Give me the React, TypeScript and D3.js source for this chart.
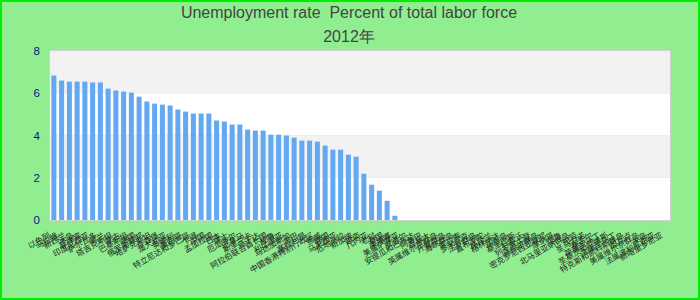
import React from "react";
import * as d3 from "d3";

const titleLine1 = "Unemployment rate  Percent of total labor force";
const titleLine2 = "2012年";

const countries = [
  "以色列", "马拉维", "新西兰", "冰岛", "菲律宾", "印度尼西亚", "萨尔瓦多", "荷兰", "塔吉克斯坦", "蒙古",
  "巴基斯坦", "德国", "俄罗斯联邦", "哈萨克斯坦", "卢森堡", "澳大利亚", "奥地利", "墨西哥", "特立尼达和多巴哥", "乍得",
  "中国", "孟加拉国", "日本", "瑞士", "厄瓜多尔", "巴拿马", "斯里兰卡", "乌干达", "阿拉伯联合酋长国", "秘鲁",
  "利比里亚", "马达加斯加", "古巴", "塞拉利昂", "中国香港特别行政区", "挪威", "韩国", "马来西亚", "危地马拉", "新加坡",
  "越南", "几内亚", "老挝", "泰国", "柬埔寨",
  "美属萨摩亚", "安道尔", "安提瓜和巴布达", "阿鲁巴", "百慕大", "英属维尔京群岛", "开曼群岛", "海峡群岛", "库拉索", "多米尼克",
  "法罗群岛", "直布罗陀", "格陵兰", "格林纳达", "马恩岛", "基里巴斯", "科索沃", "列支敦士登", "马绍尔群岛", "密克罗尼西亚联邦",
  "摩纳哥", "瑙鲁", "北马里亚纳群岛", "帕劳", "圣马力诺", "塞舌尔", "荷属圣马丁", "圣基茨和尼维斯", "法属圣马丁", "特克斯和凯科斯群岛",
  "图瓦卢", "美属维尔京群岛", "关岛", "法属波利尼西亚", "新喀里多尼亚",
];

const rates: (number | null)[] = [
  6.84, 6.6, 6.55, 6.55, 6.55, 6.51, 6.51, 6.22, 6.13, 6.08,
  6.03, 5.84, 5.61, 5.51, 5.46, 5.42, 5.23, 5.13, 5.04, 5.04,
  5.04, 4.71, 4.66, 4.52, 4.52, 4.28, 4.23, 4.23, 4.04, 4.04,
  4.0, 3.9, 3.76, 3.76, 3.71, 3.52, 3.33, 3.33, 3.09, 3.0,
  2.19, 1.67, 1.39, 0.91, 0.2,
  null, null, null, null, null, null, null, null, null, null,
  null, null, null, null, null, null, null, null, null, null,
  null, null, null, null, null, null, null, null, null, null,
  null, null, null, null, null,
];

const yTicks = [0, 2, 4, 6, 8];

const W = 700;
const H = 300;
const plot = { left: 50, right: 670, top: 51, bottom: 220 };

export default function App() {
  const x = d3
    .scaleBand<string>()
    .domain(countries)
    .range([plot.left, plot.right])
    .paddingInner(0.35)
    .paddingOuter(0.175);
  const y = d3.scaleLinear().domain([0, 8]).range([plot.bottom, plot.top]);

  const bands = d3.pairs(yTicks);

  return (
    <svg
      width={W}
      height={H}
      style={{ position: "absolute", left: 0, top: 0, fontFamily: "'Liberation Sans', Arial, sans-serif" }}
    >
      <rect x={1} y={1} width={W - 2} height={H - 2} fill="#90ee90" stroke="#00ee00" strokeWidth={2} />
      <text x={349} y={18} textAnchor="middle" fontSize={16} fill="#444" style={{ whiteSpace: "pre" }}>
        {titleLine1}
      </text>
      <text x={349} y={42} textAnchor="middle" fontSize={16} fill="#444">
        {titleLine2}
      </text>

      {bands.map(([a, b], i) => (
        <rect
          key={i}
          x={plot.left}
          y={y(b)}
          width={plot.right - plot.left}
          height={y(a) - y(b)}
          fill={i % 2 === 1 ? "#f2f2f2" : "#ffffff"}
        />
      ))}
      <rect
        x={plot.left - 0.5}
        y={plot.top - 0.5}
        width={plot.right - plot.left + 1}
        height={plot.bottom - plot.top + 1}
        fill="none"
        stroke="#d0d0d0"
        strokeWidth={1}
      />

      {yTicks.map((t) => (
        <text key={t} x={40} y={y(t) + 4} textAnchor="end" fontSize={11.5} fill="#10108c">
          {t}
        </text>
      ))}

      {countries.map((c, i) => {
        const v = rates[i];
        if (v == null) return null;
        return (
          <rect
            key={c}
            x={x(c)!}
            y={y(v)}
            width={x.bandwidth()}
            height={y(0) - y(v)}
            fill="#63a9f2"
          />
        );
      })}

      {countries.map((c) => {
        const cx = x(c)! + x.bandwidth() / 2;
        return (
          <text
            key={c}
            transform={`translate(${cx - 3},${237}) rotate(-30)`}
            textAnchor="end"
            fontSize={8}
            fill="#222"
            fontFamily="'Noto Sans CJK SC', sans-serif"
          >
            {c}
          </text>
        );
      })}
    </svg>
  );
}
